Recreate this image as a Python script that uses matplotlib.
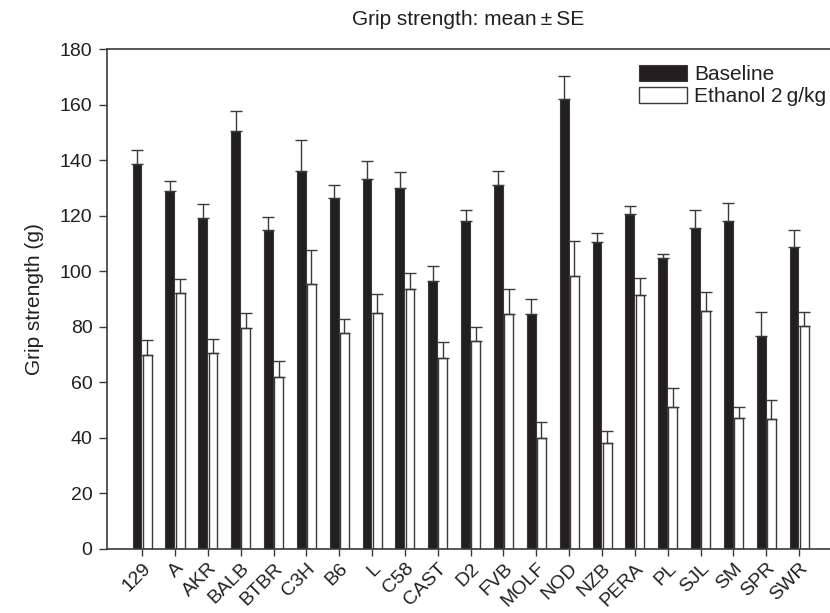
import matplotlib
matplotlib.use("Agg")
import matplotlib.pyplot as plt
import numpy as np

plt.rcParams['font.family'] = ['Liberation Sans', 'DejaVu Sans']

strains = ["129", "A", "AKR", "BALB", "BTBR", "C3H", "B6", "L", "C58", "CAST", "D2",
           "FVB", "MOLF", "NOD", "NZB", "PERA", "PL", "SJL", "SM", "SPR", "SWR"]
baseline_mean = [138.5, 128.9, 119.2, 150.6, 114.9, 136.1, 126.4, 133.1, 129.9, 96.4, 118.0,
                 130.9, 84.5, 162.1, 110.5, 120.6, 104.8, 115.6, 118.0, 76.7, 108.6]
baseline_se = [5.2, 3.6, 4.9, 7.1, 4.5, 11.0, 4.7, 6.7, 5.9, 5.4, 4.1,
               5.3, 5.3, 8.1, 3.4, 2.7, 1.5, 6.4, 6.6, 8.7, 6.3]
ethanol_mean = [69.7, 92.0, 70.5, 79.5, 62.0, 95.2, 77.7, 85.0, 93.6, 68.7, 74.8,
                84.4, 39.9, 98.3, 38.1, 91.5, 51.2, 85.5, 47.2, 46.6, 80.2]
ethanol_se = [5.6, 5.3, 5.2, 5.3, 5.7, 12.5, 5.0, 6.7, 5.6, 5.8, 5.2,
              9.3, 5.6, 12.6, 4.4, 6.1, 6.8, 7.0, 4.0, 7.0, 5.1]

W, H = 830, 613
fig = plt.figure(figsize=(W / 100, H / 100), dpi=100)
ax = fig.add_axes([107 / W, (H - 548.7) / H, (W - 107) / W, 499.7 / H])

x = np.arange(len(strains))
bw = 0.27
dark = "#231f20"
ekw = dict(ecolor="#3a3a3a", elinewidth=1.0, capthick=1.0)
ax.bar(x - 0.155, baseline_mean, bw, color=dark, edgecolor="#3a3a3a", linewidth=0.8,
       yerr=[np.zeros(len(x)), baseline_se], capsize=4.5, error_kw=ekw, label="Baseline", zorder=2)
ax.bar(x + 0.155, ethanol_mean, bw, color="white", edgecolor="#3a3a3a", linewidth=1.0,
       yerr=[np.zeros(len(x)), ethanol_se], capsize=4.5, error_kw=ekw,
       label="Ethanol 2\u2009g/kg", zorder=2)

ax.set_xlim(-1.07, 20.94)
ax.set_ylim(0, 180)
ax.set_yticks(np.arange(0, 181, 20))
ax.set_xticks(x)
ax.set_xticklabels(strains, rotation=45, ha="right", va="top", rotation_mode="anchor",
                   fontsize=14)
ax.tick_params(axis="y", labelsize=14, direction="out", length=5.5, width=1,
               color="#3a3a3a", pad=5, labelcolor="#231f20")
ax.tick_params(axis="x", direction="out", length=5, width=1, color="#3a3a3a", pad=3,
               labelcolor="#231f20")
for s in ["left", "bottom", "top"]:
    ax.spines[s].set_color("#3a3a3a")
    ax.spines[s].set_linewidth(1.2)
ax.spines["right"].set_visible(False)

ax.set_ylabel("Grip strength (g)", fontsize=15, labelpad=11, color="#231f20")
ax.set_title("Grip strength: mean\u2009\u00b1\u2009SE", fontsize=15, pad=17, color="#231f20")

leg = ax.legend(loc="upper left", bbox_to_anchor=(0.736, 0.968), frameon=False,
                fontsize=15, handlelength=2.3, handleheight=0.77, handletextpad=0.35,
                labelspacing=0.15, borderpad=0, borderaxespad=0)
for t in leg.get_texts():
    t.set_color("#231f20")

fig.savefig("out.png", dpi=100)
